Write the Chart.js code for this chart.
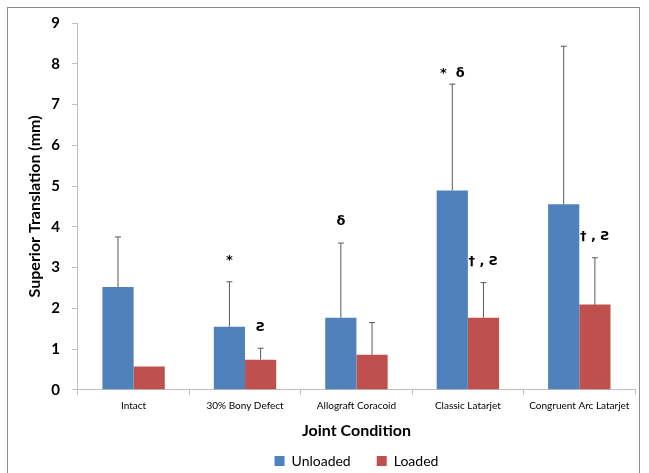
<!DOCTYPE html>
<html>
<head>
<meta charset="utf-8">
<script src="https://cdn.jsdelivr.net/npm/chart.js@4.4.0/dist/chart.umd.min.js"></script>
<style>
  html, body { margin: 0; padding: 0; background: #fff; }
  #frame {
    position: absolute; left: 7px; top: 7px;
    width: 633px; height: 470px;
    border: 1px solid #8c8c8c;
    box-sizing: border-box;
  }
  #wrap { position: absolute; left: 0; top: 0; width: 649px; height: 473px; }
</style>
</head>
<body>
<div id="frame"></div>
<div id="wrap"><canvas id="chart"></canvas></div>
<script>
const categories = ['Intact', '30% Bony Defect', 'Allograft Coracoid', 'Classic Latarjet', 'Congruent Arc Latarjet'];
const unloaded = [2.52, 1.55, 1.77, 4.89, 4.55];
const loaded = [0.57, 0.74, 0.86, 1.77, 2.09];
const unloadedSD = [1.23, 1.10, 1.83, 2.61, 3.88];
const loadedSD = [0, 0.28, 0.79, 0.86, 1.15];
const unloadedMarks = ['', '*', '\u03b4', '*  \u03b4', ''];
const loadedMarks = ['', '\u01a7', '', '\u2020 , \u01a7', '\u2020 , \u01a7'];
const yTicks = [0, 1, 2, 3, 4, 5, 6, 7, 8, 9];

const errorBars = {
  id: 'errorBars',
  afterDatasetsDraw(chart) {
    const ctx = chart.ctx;
    const y = chart.scales.y;
    const sds = [unloadedSD, loadedSD];
    const marks = [unloadedMarks, loadedMarks];
    ctx.save();
    chart.data.datasets.forEach((ds, di) => {
      const meta = chart.getDatasetMeta(di);
      meta.data.forEach((bar, i) => {
        const top = y.getPixelForValue(ds.data[i] + sds[di][i]);
        if (sds[di][i] > 0) {
          ctx.strokeStyle = '#595959';
          ctx.lineWidth = 1;
          ctx.beginPath();
          ctx.moveTo(bar.x, bar.y);
          ctx.lineTo(bar.x, top);
          ctx.moveTo(bar.x - 3, top);
          ctx.lineTo(bar.x + 3, top);
          ctx.stroke();
        }
        const txt = marks[di][i];
        if (txt) {
          ctx.fillStyle = '#000';
          ctx.font = 'bold 13px "DejaVu Sans"';
          ctx.textAlign = 'center';
          ctx.textBaseline = 'middle';
          const off = (di === 0 && i === 3) ? 11 : 21;
          ctx.fillText(txt, bar.x, top - off);
        }
      });
    });
    ctx.restore();
  }
};

new Chart(document.getElementById('chart'), {
  type: 'bar',
  data: {
    labels: categories,
    datasets: [
      { label: 'Unloaded', data: unloaded, backgroundColor: '#4f81bd' },
      { label: 'Loaded', data: loaded, backgroundColor: '#c0504d' }
    ]
  },
  options: {
    responsive: true,
    maintainAspectRatio: false,
    animation: false,
    layout: { padding: { left: 20, right: 14, top: 23, bottom: 0 } },
    datasets: { bar: { categoryPercentage: 0.56, barPercentage: 1 } },
    scales: {
      x: {
        grid: { offset: true, drawOnChartArea: false, tickLength: 5, color: '#bfbfbf' },
        border: { color: '#bfbfbf' },
        ticks: { color: '#000', font: { family: 'Lato', size: 10 }, maxRotation: 0, padding: 5 },
        title: { display: true, text: 'Joint Condition', color: '#000', font: { family: 'Lato', size: 16, weight: 'bold' }, padding: { top: 4, bottom: -12 } }
      },
      y: {
        min: 0, max: 9,
        afterBuildTicks(scale) { scale.ticks = yTicks.map(v => ({ value: v })); },
        grid: { drawOnChartArea: false, tickLength: 6, color: '#bfbfbf' },
        border: { color: '#bfbfbf' },
        ticks: { color: '#000', font: { family: 'Lato', size: 15, weight: 'bold' }, padding: 12 },
        title: { display: true, text: 'Superior Translation (mm)', color: '#000', font: { family: 'Lato', size: 16, weight: 'bold' }, padding: { top: 5, bottom: -5 } }
      }
    },
    plugins: {
      legend: {
        position: 'bottom',
        fullSize: false,
        maxHeight: 45,
        labels: { color: '#000', boxWidth: 10, boxHeight: 10, padding: 26, font: { family: 'Lato', size: 14 } }
      },
      tooltip: { enabled: false }
    }
  },
  plugins: [errorBars]
});
</script>
</body>
</html>
